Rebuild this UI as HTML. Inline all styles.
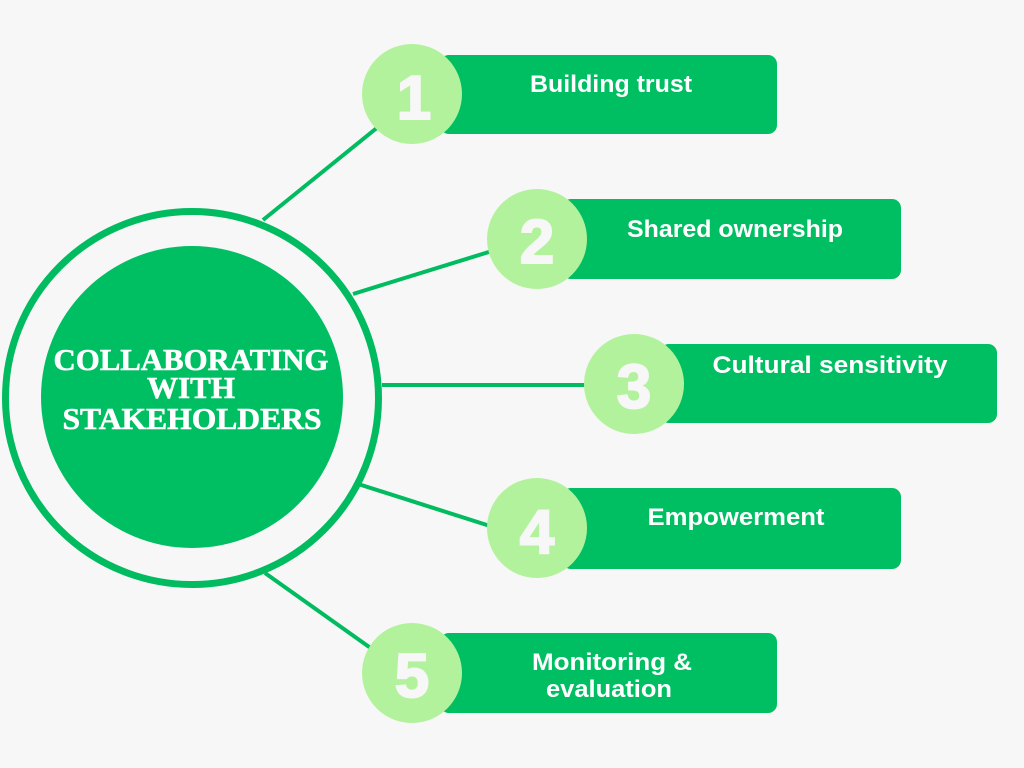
<!DOCTYPE html>
<html>
<head>
<meta charset="utf-8">
<style>
  html, body { margin:0; padding:0; background:#f7f7f7; }
  body { width:1024px; height:768px; overflow:hidden; }
  svg { display:block; }
  .lbl { font-family:"Liberation Sans", sans-serif; font-weight:bold; font-size:24px; fill:#ffffff; }
  .num { font-family:"Liberation Sans", sans-serif; font-weight:bold; font-size:62px; fill:#f7f7f7; stroke:#f7f7f7; stroke-width:2; }
  .ttl { font-family:"Liberation Serif", serif; font-weight:bold; font-size:31px; fill:#ffffff; stroke:#ffffff; stroke-width:0.6; }
</style>
</head>
<body>
<svg width="1024" height="768" viewBox="0 0 1024 768" xmlns="http://www.w3.org/2000/svg">
  <rect x="0" y="0" width="1024" height="768" fill="#f7f7f7"/>

  <!-- connectors -->
  <g stroke="#00bb5f" stroke-width="4" stroke-linecap="butt">
    <line x1="263" y1="220" x2="378" y2="127"/>
    <line x1="353" y1="294" x2="492" y2="251"/>
    <line x1="382" y1="385" x2="588" y2="385"/>
    <line x1="355" y1="483" x2="490" y2="526"/>
    <line x1="265" y1="573" x2="372" y2="649"/>
  </g>

  <!-- central circle -->
  <circle cx="192" cy="398" r="186.5" fill="none" stroke="#00bb5f" stroke-width="7"/>
  <circle cx="192" cy="397" r="151" fill="#00bf63"/>
  <text class="ttl" x="191" y="370" text-anchor="middle" textLength="275" lengthAdjust="spacingAndGlyphs">COLLABORATING</text>
  <text class="ttl" x="191" y="398" text-anchor="middle" textLength="88" lengthAdjust="spacingAndGlyphs">WITH</text>
  <text class="ttl" x="192" y="429" text-anchor="middle" textLength="259" lengthAdjust="spacingAndGlyphs">STAKEHOLDERS</text>

  <!-- item 1 -->
  <rect x="440" y="55" width="337" height="79" rx="9" fill="#00bf63"/>
  <circle cx="412" cy="94" r="50" fill="#b3f29c"/>
  <text class="num" x="414" y="119" text-anchor="middle">1</text>
  <text class="lbl" x="611" y="92" text-anchor="middle" textLength="162" lengthAdjust="spacingAndGlyphs">Building trust</text>

  <!-- item 2 -->
  <rect x="562" y="199" width="339" height="80" rx="9" fill="#00bf63"/>
  <circle cx="537" cy="239" r="50" fill="#b3f29c"/>
  <text class="num" x="537" y="263" text-anchor="middle">2</text>
  <text class="lbl" x="735" y="237" text-anchor="middle" textLength="216" lengthAdjust="spacingAndGlyphs">Shared ownership</text>

  <!-- item 3 -->
  <rect x="660" y="344" width="337" height="79" rx="9" fill="#00bf63"/>
  <circle cx="634" cy="384" r="50" fill="#b3f29c"/>
  <text class="num" x="634" y="408" text-anchor="middle">3</text>
  <text class="lbl" x="830" y="373" text-anchor="middle" textLength="235" lengthAdjust="spacingAndGlyphs">Cultural sensitivity</text>

  <!-- item 4 -->
  <rect x="562" y="488" width="339" height="81" rx="9" fill="#00bf63"/>
  <circle cx="537" cy="528" r="50" fill="#b3f29c"/>
  <text class="num" x="537" y="553" text-anchor="middle">4</text>
  <text class="lbl" x="736" y="525" text-anchor="middle" textLength="177" lengthAdjust="spacingAndGlyphs">Empowerment</text>

  <!-- item 5 -->
  <rect x="440" y="633" width="337" height="80" rx="9" fill="#00bf63"/>
  <circle cx="412" cy="673" r="50" fill="#b3f29c"/>
  <text class="num" x="412" y="697" text-anchor="middle">5</text>
  <text class="lbl" x="612" y="670" text-anchor="middle" textLength="160" lengthAdjust="spacingAndGlyphs">Monitoring &amp;</text>
  <text class="lbl" x="609" y="697" text-anchor="middle" textLength="126" lengthAdjust="spacingAndGlyphs">evaluation</text>
</svg>
</body>
</html>
